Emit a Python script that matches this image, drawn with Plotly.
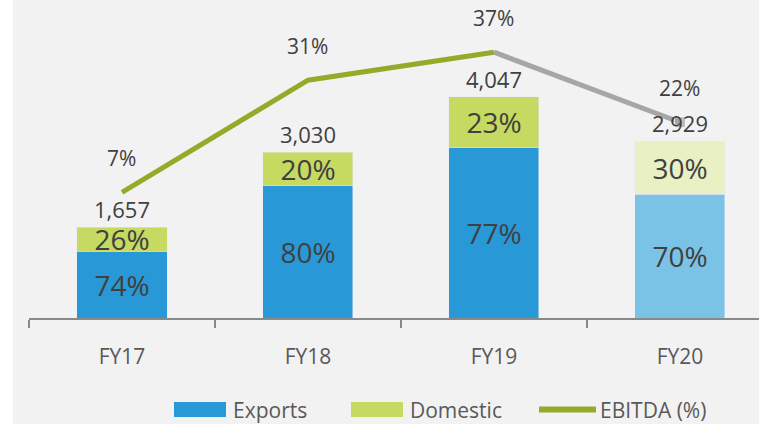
import plotly.graph_objects as go

FONT = "Open Sans"
TEXT_COLOR = "#404040"
LEGEND_COLOR = "#595959"

years = ["FY17", "FY18", "FY19", "FY20"]
bar_totals = [1657, 3030, 4047, 3232]          # bar heights as drawn
total_labels = ["1,657", "3,030", "4,047", "2,929"]
exports_share = [74, 80, 77, 70]
domestic_share = [26, 20, 23, 30]
ebitda = [7, 31, 37, 22]
legend_names = ["Exports", "Domestic", "EBITDA (%)"]

EXPORTS_C, DOMESTIC_C, LINE_C = "#2899d6", "#c6d960", "#94ab2a"
exports_colors = [EXPORTS_C] * 3 + ["#7ac3e6"]
domestic_colors = [DOMESTIC_C] * 3 + ["#e8f0c4"]

exports_vals = [t * s / 100 for t, s in zip(bar_totals, exports_share)]
domestic_vals = [t * s / 100 for t, s in zip(bar_totals, domestic_share)]

# plot area in pixels: x 29..759, y 12..318
L, R, T, B = 29, 759, 12, 318


def px(x):
    return (x - L) / (R - L)


def py(y):
    return (B - y) / (B - T)


fig = go.Figure()
fig.add_trace(go.Bar(x=years, y=exports_vals, name=legend_names[0], width=0.484,
                     marker=dict(color=exports_colors),
                     text=[f"{v}%" for v in exports_share], textposition="inside",
                     insidetextanchor="middle", constraintext="none",
                     textfont=dict(family=FONT, size=28, color=TEXT_COLOR)))
fig.add_trace(go.Bar(x=years, y=domestic_vals, name=legend_names[1], width=0.484,
                     marker=dict(color=domestic_colors),
                     text=[f"{v}%" for v in domestic_share], textposition="inside",
                     insidetextanchor="middle", constraintext="none",
                     textfont=dict(family=FONT, size=28, color=TEXT_COLOR)))
fig.add_trace(go.Scatter(x=years[:3], y=ebitda[:3], name=legend_names[2], yaxis="y2",
                         mode="lines", line=dict(color=LINE_C, width=5)))
fig.add_trace(go.Scatter(x=years[2:], y=ebitda[2:], yaxis="y2",
                         mode="lines+markers", line=dict(color="#a6a6a6", width=5),
                         marker=dict(symbol="square", size=[0, 11], color="#a6a6a6")))

for yr, tot, lab in zip(years, bar_totals, total_labels):
    fig.add_annotation(x=yr, y=tot, text=lab, showarrow=False, yanchor="middle", yshift=18,
                       font=dict(family=FONT, size=22, color=TEXT_COLOR))
for yr, v in zip(years, ebitda):
    fig.add_annotation(x=yr, y=v, yref="y2", text=f"{v}%", showarrow=False, yanchor="middle",
                       yshift=34, font=dict(family=FONT, size=21, color=TEXT_COLOR))

# white strip at left edge
fig.add_shape(type="rect", xref="paper", yref="paper", x0=px(-20), x1=px(13), y0=py(440), y1=py(-20),
              fillcolor="white", line=dict(width=0), layer="below")

# legend drawn by hand (wide Excel-style swatches)
fig.add_shape(type="rect", xref="paper", yref="paper", x0=px(174), x1=px(226), y0=py(417), y1=py(402),
              fillcolor=EXPORTS_C, line=dict(width=0))
fig.add_shape(type="rect", xref="paper", yref="paper", x0=px(351), x1=px(403), y0=py(417), y1=py(402),
              fillcolor=DOMESTIC_C, line=dict(width=0))
fig.add_shape(type="line", xref="paper", yref="paper", x0=px(539), x1=px(596), y0=py(409.5), y1=py(409.5),
              line=dict(color=LINE_C, width=6))
for name, x0 in zip(legend_names, [231, 408, 598]):
    fig.add_annotation(xref="paper", yref="paper", x=px(x0), y=py(409.5), text=name, showarrow=False,
                       xanchor="left", yanchor="middle",
                       font=dict(family=FONT, size=21, color=LEGEND_COLOR))

fig.update_layout(
    width=759, height=424,
    margin=dict(l=L, r=759 - R, t=T, b=424 - B),
    paper_bgcolor="#f2f2f2", plot_bgcolor="#f2f2f2",
    barmode="stack", showlegend=False,
    font=dict(family=FONT, size=21, color=LEGEND_COLOR),
    xaxis=dict(type="category", range=[-0.5, 3.425], tickson="boundaries",
               ticks="outside", ticklen=8, tickcolor="#898989", tickwidth=2,
               showline=True, linecolor="#898989", linewidth=2, showgrid=False,
               ticklabelstandoff=19, tickfont=dict(size=21, color=LEGEND_COLOR)),
    yaxis=dict(range=[0, 5600], visible=False, showgrid=False),
    yaxis2=dict(range=[-19.91, 45.6], overlaying="y", visible=False, showgrid=False),
)

fig.write_html("out.html", config={"displayModeBar": False},
               post_script="document.body.style.margin='0';")
